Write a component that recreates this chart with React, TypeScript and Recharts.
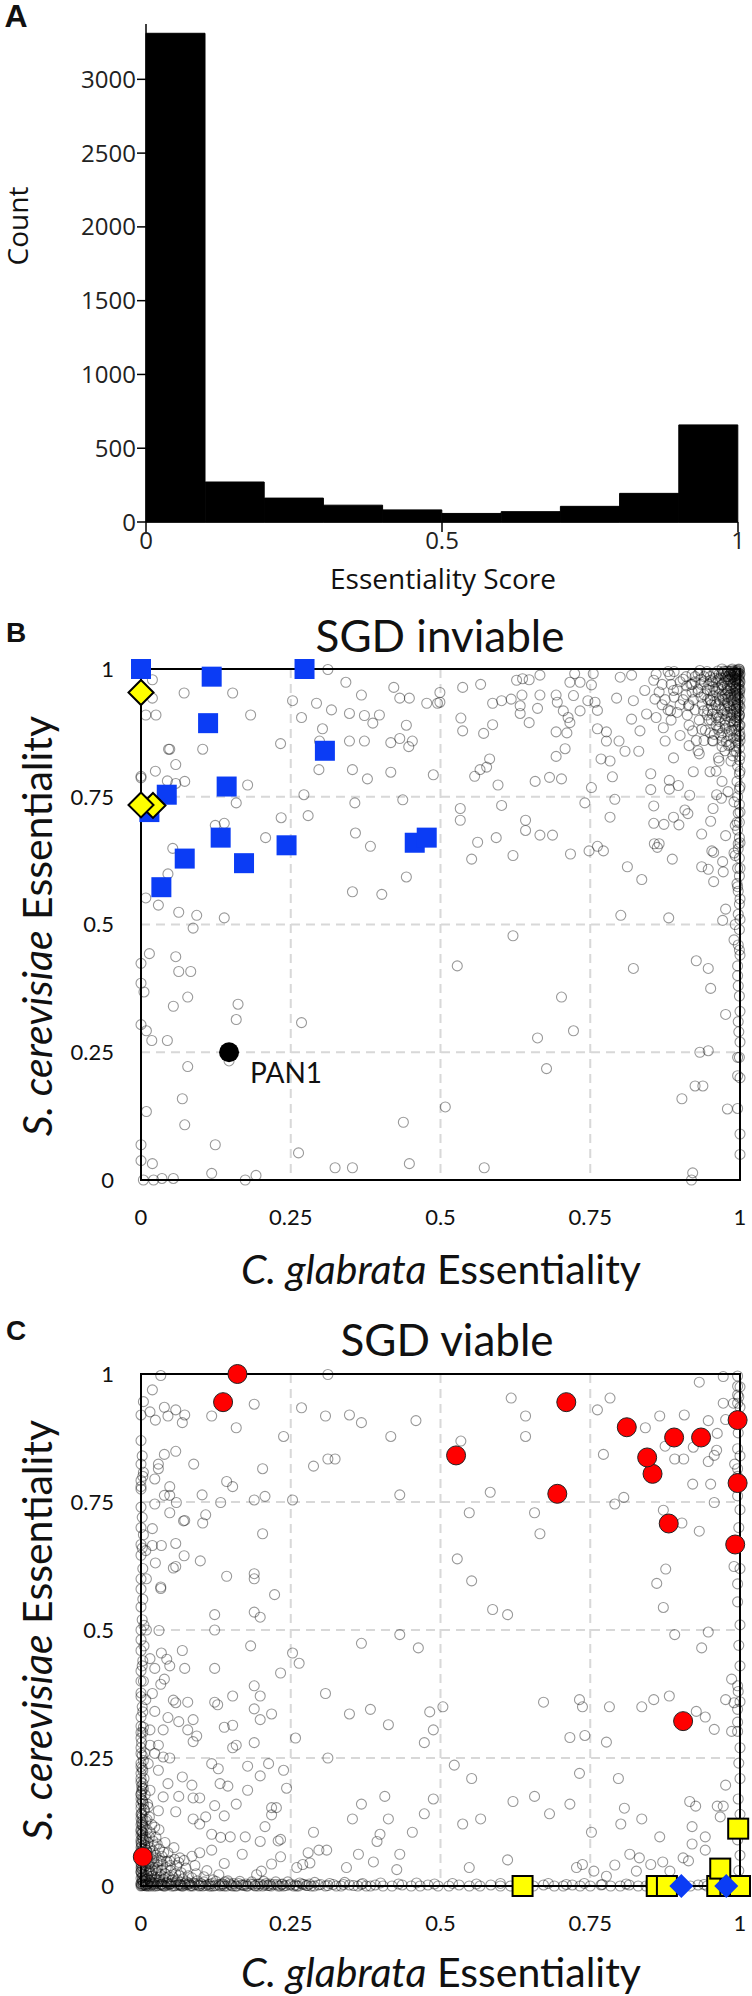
import { BarChart, Bar, XAxis, YAxis, ScatterChart, Scatter, CartesianGrid, ReferenceArea } from 'recharts';

document.body.style.margin = '0';

// ---- panel A: histogram of essentiality scores (bins of 0.1, given by their centres)
const BIN_MID = [0.05, 0.15, 0.25, 0.35, 0.45, 0.55, 0.65, 0.75, 0.85, 0.95];
const BIN_COUNT = [3312, 271, 162, 114, 82, 58, 70, 106, 194, 658];
const COUNT_TICKS = [0, 500, 1000, 1500, 2000, 2500, 3000];
const SCORE_TICKS = [0, 0.5, 1];

// ---- panels B/C: C. glabrata (x) vs S. cerevisiae (y) essentiality
const ESS_TICKS = [0, 0.25, 0.5, 0.75, 1];

const B_GRAY = [
  [0.019,0.979],[0.072,0.953],[0.153,0.953],[0.019,0.943],[0.008,0.91],[0.025,0.91],[0.183,0.91],[0.046,0.843],[0.048,0.843],[0.103,0.843],
  [0.233,0.854],[0.058,0.813],[0.024,0.8],[0.0,0.787],[0.0,0.79],[0.044,0.781],[0.058,0.776],[0.073,0.78],[0.178,0.773],[0.159,0.738],
  [0.234,0.709],[0.124,0.694],[0.139,0.698],[0.208,0.67],[0.053,0.649],[0.045,0.599],[0.008,0.552],[0.029,0.538],[0.063,0.524],[0.093,0.518],
  [0.087,0.493],[0.139,0.513],[0.014,0.443],[0.058,0.437],[0.0,0.424],[0.063,0.408],[0.083,0.408],[0.0,0.385],[0.005,0.368],[0.078,0.358],
  [0.054,0.34],[0.162,0.344],[0.159,0.314],[0.0,0.304],[0.009,0.292],[0.018,0.273],[0.044,0.273],[0.268,0.308],[0.078,0.222],[0.147,0.233],
  [0.069,0.159],[0.009,0.134],[0.073,0.108],[0.0,0.069],[0.124,0.069],[0.263,0.053],[0.019,0.032],[0.0,0.038],[0.118,0.013],[0.192,0.009],
  [0.324,0.024],[0.353,0.024],[0.438,0.113],[0.448,0.032],[0.174,0.0],[0.004,0.0],[0.021,0.0],[0.035,0.003],[0.054,0.003],
  [0.312,0.999],[0.342,0.974],[0.253,0.938],[0.293,0.933],[0.268,0.905],[0.318,0.92],[0.348,0.913],[0.368,0.949],[0.373,0.909],[0.387,0.894],
  [0.398,0.91],[0.422,0.964],[0.432,0.943],[0.448,0.943],[0.477,0.933],[0.495,0.933],[0.303,0.883],[0.298,0.859],[0.348,0.859],[0.373,0.859],
  [0.443,0.89],[0.417,0.856],[0.432,0.864],[0.447,0.848],[0.453,0.859],[0.297,0.803],[0.353,0.803],[0.378,0.785],[0.417,0.798],[0.488,0.793],
  [0.272,0.754],[0.279,0.713],[0.357,0.738],[0.437,0.744],[0.358,0.679],[0.383,0.653],[0.443,0.593],[0.353,0.564],[0.402,0.559],
  [0.537,0.964],[0.567,0.97],[0.534,0.904],[0.537,0.879],[0.572,0.874],[0.587,0.891],[0.587,0.933],[0.602,0.938],[0.618,0.941],[0.633,0.928],
  [0.636,0.949],[0.637,0.981],[0.648,0.979],[0.627,0.978],[0.666,0.988],[0.666,0.949],[0.662,0.923],[0.633,0.913],[0.648,0.895],[0.693,0.949],
  [0.695,0.935],[0.705,0.918],[0.713,0.905],[0.716,0.895],[0.711,0.875],[0.693,0.877],[0.708,0.844],[0.693,0.829],[0.716,0.974],[0.724,0.991],
  [0.733,0.974],[0.722,0.948],[0.733,0.918],[0.752,0.969],[0.755,0.991],[0.746,0.938],[0.758,0.935],[0.762,0.919],[0.762,0.883],[0.777,0.877],
  [0.777,0.859],[0.794,0.943],[0.8,0.984],[0.798,0.859],[0.808,0.839],[0.768,0.824],[0.783,0.82],[0.787,0.789],[0.752,0.768],[0.741,0.738],
  [0.791,0.745],[0.783,0.71],[0.819,0.988],[0.822,0.938],[0.819,0.902],[0.833,0.879],[0.841,0.958],[0.844,0.912],[0.856,0.978],[0.858,0.941],
  [0.831,0.839],[0.851,0.795],[0.851,0.764],[0.856,0.732],[0.856,0.698],[0.873,0.696],[0.889,0.71],[0.898,0.695],[0.857,0.658],[0.865,0.658],
  [0.862,0.651],[0.812,0.613],[0.836,0.588],[0.887,0.628],[0.882,0.782],[0.882,0.765],[0.897,0.772],[0.908,0.724],[0.913,0.717],[0.916,0.753],
  [0.889,0.826],[0.875,0.859],[0.872,0.885],[0.884,0.918],[0.889,0.958],[0.883,0.988],[0.911,0.967],[0.914,0.928],[0.921,0.879],[0.922,0.799],
  [0.932,0.834],[0.936,0.882],[0.939,0.918],[0.933,0.997],[0.951,0.978],[0.951,0.938],[0.955,0.859],[0.95,0.799],[0.964,0.826],[0.966,0.885],
  [0.961,0.754],[0.969,0.747],[0.955,0.727],[0.951,0.702],[0.936,0.677],[0.976,0.674],[0.953,0.644],[0.956,0.641],[0.971,0.623],[0.972,0.603],
  [0.936,0.613],[0.947,0.608],[0.956,0.584],[0.992,0.694],[0.997,0.658],[0.992,0.635],[0.996,0.574],[0.976,0.53],[0.971,0.508],[0.992,0.5],
  [0.801,0.518],[0.881,0.513],[0.528,0.419],[0.621,0.478],[0.822,0.414],[0.927,0.429],[0.947,0.414],[0.951,0.375],[0.996,0.419],[0.702,0.358],
  [0.722,0.292],[0.662,0.278],[0.677,0.218],[0.976,0.324],[0.933,0.25],[0.947,0.253],[0.996,0.24],[0.996,0.204],[0.925,0.184],[0.938,0.184],
  [0.903,0.159],[0.979,0.139],[0.508,0.143],[0.573,0.024],[0.921,0.014],[0.919,0.0],[0.533,0.727],[0.533,0.704],[0.562,0.661],[0.593,0.67],
  [0.552,0.628],[0.621,0.635],[0.642,0.704],[0.642,0.684],[0.666,0.675],[0.687,0.675],[0.602,0.733],[0.596,0.773],[0.557,0.79],[0.566,0.803],
  [0.577,0.808],[0.582,0.824],[0.658,0.78],[0.682,0.788],[0.702,0.785],[0.717,0.638],[0.748,0.644],[0.762,0.653],[0.772,0.644],[0.499,0.954],
  [0.499,0.935],
  // dense corner near (1, 1)
  [0.86,0.99],[0.87,0.97],[0.875,0.94],[0.88,0.92],[0.885,0.9],[0.89,0.995],[0.895,0.96],[0.9,0.93],[0.9,0.87],[0.905,0.98],
  [0.91,0.95],[0.912,0.91],[0.915,0.89],[0.918,0.97],[0.92,0.99],[0.922,0.94],[0.925,0.92],[0.927,0.86],[0.93,0.96],[0.932,0.9],
  [0.935,0.98],[0.937,0.93],[0.94,0.95],[0.942,0.88],[0.944,0.99],[0.946,0.92],[0.948,0.97],[0.95,0.94],[0.952,0.9],[0.954,0.86],
  [0.956,0.99],[0.958,0.96],[0.96,0.93],[0.962,0.91],[0.964,0.98],[0.966,0.95],[0.968,0.87],[0.97,1.0],[0.971,0.97],[0.972,0.94],
  [0.974,0.92],[0.975,0.89],[0.977,0.99],[0.978,0.96],[0.98,0.93],[0.981,0.85],[0.982,0.98],[0.984,0.95],[0.985,0.91],[0.986,0.88],
  [0.987,1.0],[0.988,0.97],[0.989,0.94],[0.99,0.92],[0.991,0.99],[0.992,0.96],[0.993,0.9],[0.994,0.87],[0.995,0.98],[0.996,0.95],
  [0.997,0.93],[0.998,1.0],[0.998,0.97],[0.999,0.91],[1.0,0.99],[1.0,0.96],[1.0,0.94],[1.0,0.89],[1.0,0.86],[1.0,0.83],
  [1.0,0.8],[0.99,0.84],[0.985,0.82],[0.975,0.84],[0.965,0.82],[0.96,0.8],[0.97,0.78],[0.98,0.76],[0.99,0.74],[1.0,0.77],
  [1.0,0.72],[0.995,0.7],[1.0,0.66],[0.99,0.64],[1.0,0.61],[0.995,0.58],[1.0,0.55],[1.0,0.51],[0.99,0.47],[1.0,0.44],
  [0.997,0.38],[1.0,0.33],[0.998,0.29],[1.0,0.27],[1.0,0.2],[0.996,0.14],[1.0,0.09],[1.0,0.05],
  [0.975,0.995],[0.98,0.985],[0.985,0.975],[0.99,0.965],[0.995,0.955],[0.965,0.99],[0.96,0.975],[0.955,0.965],[0.95,0.985],[0.945,0.96],
  [0.99,0.985],[0.995,0.99],[1.0,0.975],[0.985,0.995],[0.97,0.96],[0.975,0.95],[0.98,0.945],[0.99,0.935],[1.0,0.925],[0.995,0.915],
  [0.985,0.905],[0.975,0.9],[0.965,0.905],[0.99,0.88],[0.98,0.87],[0.97,0.86],[1.0,0.87],[0.993,0.85],[0.94,0.975],[0.93,0.99],
  [0.925,0.975],[0.92,0.955],[0.935,0.945],[0.955,0.92],[0.945,0.91],[0.96,0.89],[0.95,0.875],[0.94,0.86],[0.93,0.84],[0.915,0.85],
  [0.996,0.998],[0.992,0.993],[0.988,0.988],[0.998,0.982],[0.993,0.977],[0.983,0.967],[0.997,0.962],[0.988,0.957],[0.978,0.952],[0.998,0.945],
  [0.992,0.948],[0.986,0.938],[0.996,0.932],[0.982,0.928],[0.994,0.922],[0.988,0.912],[0.998,0.905],[0.979,0.915],[0.99,0.897],[0.997,0.888],
  [0.999,0.999],[0.997,0.994],[0.994,0.997],[0.99,0.992],[0.986,0.998],[0.983,0.99],[0.979,0.996],[0.999,0.987],[0.995,0.983],[0.991,0.979],
  [0.987,0.984],[0.98,0.978],[0.976,0.985],[0.972,0.991],[0.968,0.983],[0.963,0.996],[0.999,0.97],[0.994,0.967],[0.989,0.972],[0.984,0.962],
  [0.979,0.967],[0.974,0.974],[0.969,0.969],[0.964,0.962],[0.959,0.982],[0.954,0.975],[0.999,0.952],[0.995,0.947],[0.99,0.952],[0.985,0.944],
  [0.98,0.957],[0.975,0.941],[0.97,0.948],[0.965,0.94],[0.96,0.955],[0.955,0.948],[0.95,0.958],[0.999,0.93],[0.994,0.926],[0.989,0.93],
  [0.984,0.922],[0.979,0.934],[0.974,0.928],[0.969,0.92],[0.964,0.928],[0.958,0.936],[0.952,0.93],[0.946,0.94],[0.999,0.91],[0.995,0.905],
  [0.99,0.91],[0.984,0.898],[0.978,0.908],[0.972,0.912],[0.966,0.897],[0.96,0.905],[0.954,0.912],[0.948,0.9],[0.999,0.89],[0.994,0.882],
  [0.988,0.89],[0.982,0.878],[0.976,0.884],[0.97,0.875],[0.963,0.882],[0.957,0.872],[0.999,0.868],[0.995,0.86],[0.989,0.865],[0.983,0.852],
  [0.977,0.858],[0.97,0.848],[0.999,0.845],[0.994,0.838],[0.988,0.83],[0.999,0.822],[0.996,0.81],[0.999,0.795],[0.995,0.78],[0.999,0.765],
  [0.996,0.75],[0.999,0.735],[0.997,0.718],[0.999,0.7],[0.996,0.685],[0.999,0.67],[0.997,0.648],[0.999,0.63],[0.996,0.61],[0.999,0.595],
  [0.997,0.565],[0.999,0.54],[0.997,0.52],[0.999,0.49],[0.997,0.46],[0.999,0.45],[0.996,0.4],[0.999,0.36],[0.997,0.31],[0.999,0.24],
  [0.945,0.995],[0.94,0.985],[0.935,0.97],[0.93,0.955],[0.925,0.985],[0.92,0.97],[0.915,0.93],[0.91,0.985],[0.905,0.94],[0.9,0.975],
  [0.895,0.915],[0.89,0.945],[0.885,0.97],[0.88,0.995],[0.87,0.93],[0.865,0.955],[0.86,0.905],
  [0.999,0.996],[0.997,0.99],[0.995,0.994],[0.993,0.986],[0.999,0.978],[0.996,0.972],[0.993,0.962],[0.999,0.958],[0.996,0.94],[0.998,0.918],
  [0.995,0.898],[0.999,0.878],[0.997,0.855],[0.989,0.996],[0.985,0.988],[0.981,0.995],[0.977,0.981],[0.973,0.996],[0.969,0.99],
];
const B_BLUE_SQUARE = [
  [0.0,1.0],[0.118,0.985],[0.273,1.0],[0.112,0.894],[0.307,0.84],[0.143,0.77],[0.043,0.754],[0.014,0.72],
  [0.133,0.67],[0.243,0.655],[0.073,0.629],[0.172,0.62],[0.034,0.573],[0.457,0.66],[0.477,0.67],
];
const B_YELLOW_DIAMOND = [[0.0,0.954],[0.02,0.733],[0.0,0.734]];
const B_NAMED = [{ x: 0.147, y: 0.25, name: 'PAN1' }];

const C_GRAY = [
  [0.033,0.997],[0.019,0.969],[0.004,0.946],[0.0,0.92],[0.015,0.926],[0.024,0.91],[0.039,0.935],[0.045,0.918],[0.058,0.93],[0.069,0.905],
  [0.073,0.92],[0.118,0.918],[0.189,0.941],[0.159,0.895],[0.238,0.878],[0.268,0.934],[0.308,0.918],[0.348,0.92],[0.368,0.905],[0.459,0.909],
  [0.417,0.878],[0.312,0.999],[0.288,0.82],[0.312,0.834],[0.324,0.834],[0.203,0.815],[0.143,0.79],[0.153,0.78],[0.088,0.824],[0.058,0.849],
  [0.039,0.843],[0.029,0.824],[0.029,0.815],[0.0,0.824],[0.004,0.808],[0.0,0.792],[0.0,0.775],[0.023,0.795],[0.048,0.78],[0.039,0.763],
  [0.048,0.763],[0.023,0.746],[0.059,0.749],[0.048,0.729],[0.071,0.713],[0.073,0.714],[0.102,0.764],[0.133,0.749],[0.103,0.709],[0.108,0.725],
  [0.189,0.754],[0.207,0.761],[0.253,0.754],[0.432,0.764],[0.203,0.688],[0.019,0.698],[0.004,0.686],[0.0,0.667],[0.008,0.655],[0.019,0.665],
  [0.034,0.665],[0.058,0.669],[0.072,0.645],[0.024,0.631],[0.0,0.646],[0.054,0.621],[0.058,0.624],[0.099,0.635],[0.009,0.6],[0.033,0.584],
  [0.033,0.581],[0.143,0.605],[0.189,0.61],[0.189,0.6],[0.223,0.569],[0.0,0.545],[0.123,0.53],[0.189,0.535],[0.199,0.525],[0.005,0.509],
  [0.009,0.5],[0.03,0.499],[0.123,0.5],[0.0,0.481],[0.005,0.469],[0.015,0.444],[0.034,0.455],[0.043,0.443],[0.048,0.43],[0.023,0.425],
  [0.069,0.46],[0.073,0.425],[0.123,0.425],[0.183,0.469],[0.253,0.455],[0.264,0.435],[0.233,0.416],[0.368,0.474],[0.432,0.491],[0.463,0.465],
  [0.0,0.42],[0.004,0.4],[0.039,0.404],[0.033,0.394],[0.0,0.377],[0.019,0.376],[0.008,0.364],[0.054,0.363],[0.058,0.358],[0.078,0.359],
  [0.123,0.359],[0.128,0.354],[0.153,0.371],[0.189,0.391],[0.199,0.371],[0.189,0.346],[0.199,0.325],[0.218,0.336],[0.308,0.376],[0.348,0.336],
  [0.383,0.345],[0.413,0.315],[0.482,0.34],[0.488,0.305],[0.473,0.28],[0.023,0.341],[0.045,0.329],[0.063,0.321],[0.087,0.325],[0.0,0.312],
  [0.0,0.289],[0.015,0.305],[0.037,0.305],[0.078,0.305],[0.093,0.293],[0.087,0.282],[0.139,0.31],[0.153,0.314],[0.153,0.27],[0.159,0.275],
  [0.189,0.28],[0.258,0.289],[0.015,0.275],[0.029,0.275],[0.0,0.259],[0.023,0.259],[0.037,0.252],[0.048,0.25],[0.312,0.25],[0.0,0.233],
  [0.012,0.239],[0.029,0.226],[0.118,0.239],[0.129,0.229],[0.178,0.234],[0.213,0.239],[0.238,0.226],[0.199,0.215],[0.069,0.213],[0.045,0.2],
  [0.085,0.197],[0.132,0.2],[0.145,0.195],[0.243,0.191],[0.178,0.187],[0.0,0.203],[0.0,0.18],[0.015,0.187],[0.037,0.174],[0.063,0.175],
  [0.087,0.172],[0.098,0.172],[0.123,0.157],[0.159,0.16],[0.0,0.16],[0.012,0.154],[0.029,0.147],[0.058,0.145],[0.087,0.131],[0.108,0.135],
  [0.139,0.137],[0.218,0.153],[0.226,0.153],[0.218,0.139],[0.207,0.116],[0.098,0.121],[0.118,0.101],[0.133,0.095],[0.149,0.096],[0.174,0.096],
  [0.199,0.087],[0.229,0.088],[0.233,0.091],[0.288,0.105],[0.297,0.07],[0.31,0.07],[0.279,0.065],[0.233,0.057],[0.218,0.043],[0.169,0.062],
  [0.139,0.044],[0.118,0.07],[0.098,0.065],[0.065,0.055],[0.048,0.049],[0.033,0.049],[0.363,0.062],[0.388,0.047],[0.394,0.087],[0.399,0.101],
  [0.432,0.062],[0.453,0.105],[0.473,0.141],[0.488,0.17],[0.407,0.175],[0.413,0.131],[0.368,0.16],[0.353,0.131],[0.427,0.032],[0.343,0.036],
  [0.26,0.036],[0.27,0.042],[0.282,0.045],[0.201,0.029],[0.193,0.022],
  // dense corner near (0, 0) and the x = 0 column
  [0.0,0.14],[0.003,0.13],[0.0,0.12],[0.005,0.115],[0.002,0.105],[0.0,0.1],[0.008,0.095],[0.004,0.09],[0.0,0.085],[0.012,0.085],
  [0.006,0.08],[0.0,0.075],[0.015,0.075],[0.009,0.07],[0.003,0.065],[0.02,0.068],[0.0,0.06],[0.012,0.06],[0.025,0.06],[0.006,0.055],
  [0.018,0.052],[0.0,0.05],[0.03,0.05],[0.01,0.046],[0.022,0.044],[0.004,0.042],[0.036,0.042],[0.015,0.038],[0.0,0.036],[0.028,0.036],
  [0.042,0.036],[0.008,0.032],[0.02,0.03],[0.034,0.03],[0.05,0.03],[0.0,0.027],[0.013,0.025],[0.026,0.024],[0.04,0.024],[0.058,0.024],
  [0.005,0.02],[0.018,0.019],[0.031,0.018],[0.046,0.018],[0.064,0.02],[0.0,0.015],[0.01,0.014],[0.024,0.013],[0.037,0.013],[0.052,0.012],
  [0.07,0.014],[0.085,0.016],[0.004,0.009],[0.016,0.008],[0.029,0.008],[0.043,0.007],[0.058,0.008],[0.076,0.008],[0.094,0.01],[0.0,0.004],
  [0.009,0.004],[0.021,0.003],[0.035,0.003],[0.049,0.004],[0.066,0.003],[0.081,0.004],[0.1,0.005],[0.06,0.04],[0.075,0.035],[0.09,0.04],
  [0.072,0.05],[0.085,0.058],[0.11,0.03],[0.105,0.018],[0.12,0.012],[0.13,0.022],[0.14,0.008],[0.045,0.065],[0.055,0.075],[0.04,0.085],
  [0.025,0.095],[0.03,0.11],[0.018,0.12],[0.01,0.13],[0.005,0.15],[0.0,0.17],[0.004,0.19],[0.0,0.22],[0.004,0.245],[0.0,0.27],
  [0.003,0.3],[0.0,0.33],[0.002,0.35],[0.0,0.4],[0.003,0.44],[0.0,0.46],[0.002,0.52],[0.0,0.58],[0.003,0.62],[0.0,0.7],
  [0.002,0.72],[0.0,0.74],[0.002,0.84],[0.0,0.87],[0.002,0.007],[0.007,0.012],[0.003,0.022],[0.011,0.02],[0.001,0.033],[0.008,0.04],
  [0.002,0.047],[0.014,0.03],[0.006,0.065],[0.001,0.078],[0.003,0.098],[0.0,0.11],[0.001,0.125],[0.004,0.16],[0.001,0.185],[0.003,0.2],
  [0.001,0.001],[0.004,0.003],[0.008,0.001],[0.012,0.005],[0.002,0.011],[0.006,0.016],[0.014,0.011],[0.019,0.006],[0.023,0.016],[0.027,0.005],
  [0.031,0.011],[0.001,0.024],[0.009,0.028],[0.017,0.024],[0.025,0.03],[0.033,0.022],[0.041,0.016],[0.045,0.005],[0.053,0.018],[0.061,0.012],
  [0.067,0.026],[0.073,0.005],[0.079,0.02],[0.088,0.006],[0.092,0.024],[0.001,0.039],[0.007,0.05],[0.013,0.044],[0.021,0.055],[0.027,0.047],
  [0.035,0.058],[0.043,0.048],[0.049,0.04],[0.056,0.052],[0.063,0.046],[0.002,0.062],[0.009,0.07],[0.016,0.064],[0.022,0.079],[0.031,0.072],
  [0.038,0.066],[0.001,0.083],[0.007,0.09],[0.014,0.096],[0.02,0.088],[0.027,0.082],[0.003,0.104],[0.01,0.11],[0.016,0.104],[0.023,0.115],
  [0.002,0.12],[0.008,0.127],[0.014,0.135],[0.001,0.142],[0.006,0.148],[0.011,0.16],[0.002,0.168],[0.007,0.178],[0.001,0.195],[0.005,0.21],
  [0.002,0.23],[0.006,0.26],[0.001,0.28],[0.004,0.31],
  [0.0,0.005],[0.002,0.017],[0.0,0.028],[0.003,0.037],[0.0,0.044],[0.002,0.055],[0.0,0.068],[0.003,0.073],[0.0,0.09],[0.002,0.093],
  [0.0,0.107],[0.003,0.118],[0.0,0.132],[0.002,0.138],[0.0,0.152],[0.003,0.165],[0.0,0.178],[0.002,0.19],[0.0,0.21],[0.003,0.225],
  [0.0,0.24],[0.002,0.255],[0.0,0.3],[0.003,0.34],[0.0,0.37],[0.002,0.43],[0.0,0.5],[0.003,0.56],[0.0,0.6],[0.002,0.66],
  [0.0,0.78],[0.003,0.8],
  // the y = 0 row
  [0.0,0.0],[0.006,0.002],[0.012,0.0],[0.018,0.003],[0.025,0.0],[0.032,0.002],[0.04,0.0],[0.047,0.003],[0.055,0.0],[0.062,0.002],
  [0.07,0.0],[0.078,0.003],[0.086,0.0],[0.095,0.002],[0.103,0.0],[0.112,0.003],[0.121,0.0],[0.13,0.002],[0.139,0.0],[0.149,0.003],
  [0.158,0.0],[0.167,0.002],[0.176,0.0],[0.186,0.003],[0.196,0.0],[0.206,0.002],[0.217,0.0],[0.227,0.003],[0.238,0.0],[0.249,0.002],
  [0.26,0.0],[0.272,0.003],[0.284,0.0],[0.296,0.002],[0.308,0.0],[0.321,0.003],[0.334,0.0],[0.348,0.002],[0.362,0.0],[0.376,0.0],
  [0.391,0.002],[0.404,0.0],[0.419,0.0],[0.436,0.002],[0.451,0.0],[0.466,0.0],[0.479,0.002],[0.496,0.0],[0.514,0.0],[0.531,0.002],
  [0.548,0.0],[0.566,0.0],[0.584,0.002],[0.6,0.0],[0.617,0.0],[0.655,0.0],[0.672,0.002],[0.69,0.0],[0.705,0.0],[0.72,0.002],
  [0.733,0.0],[0.75,0.0],[0.768,0.002],[0.784,0.0],[0.8,0.0],[0.815,0.002],[0.83,0.0],[0.843,0.0],[0.89,0.0],[0.917,0.0],
  [0.93,0.002],[0.945,0.0],[0.955,0.0],[0.99,0.0],[0.009,0.0],[0.021,0.0],[0.036,0.001],[0.051,0.0],[0.066,0.001],[0.082,0.0],
  [0.099,0.001],[0.117,0.0],[0.135,0.001],[0.153,0.0],[0.172,0.001],[0.191,0.0],[0.211,0.001],[0.232,0.0],[0.255,0.0],[0.278,0.001],
  [0.105,0.008],[0.115,0.004],[0.125,0.009],[0.135,0.004],[0.145,0.01],[0.155,0.005],[0.165,0.009],[0.175,0.004],[0.185,0.008],[0.195,0.004],
  [0.205,0.009],[0.215,0.004],[0.225,0.008],[0.235,0.003],[0.245,0.008],[0.265,0.006],[0.29,0.007],[0.315,0.005],[0.34,0.007],[0.37,0.005],
  [0.4,0.006],[0.43,0.004],[0.46,0.006],[0.49,0.004],[0.52,0.005],[0.56,0.004],[0.6,0.005],[0.64,0.003],[0.68,0.005],[0.71,0.003],
  [0.74,0.005],[0.77,0.003],[0.81,0.004],[0.85,0.003],[0.88,0.004],[0.94,0.003],[0.97,0.004],
  [0.003,0.001],[0.011,0.003],[0.016,0.0],[0.022,0.005],[0.028,0.001],[0.034,0.004],[0.038,0.0],[0.044,0.002],[0.05,0.005],[0.057,0.001],
  [0.064,0.004],[0.068,0.0],[0.074,0.002],[0.08,0.006],[0.084,0.001],[0.09,0.003],[0.097,0.0],[0.101,0.004],[0.108,0.001],[0.114,0.0],
  [0.119,0.005],[0.124,0.001],[0.132,0.0],[0.137,0.004],[0.143,0.0],[0.147,0.006],[0.151,0.001],[0.16,0.0],[0.163,0.005],[0.17,0.002],
  [0.178,0.0],[0.183,0.004],[0.19,0.001],[0.199,0.004],[0.203,0.0],[0.209,0.005],[0.214,0.001],[0.221,0.003],[0.229,0.0],[0.236,0.004],
  [0.242,0.001],[0.25,0.004],[0.258,0.002],[0.263,0.0],[0.269,0.004],[0.276,0.001],[0.281,0.004],[0.289,0.0],[0.3,0.003],[0.312,0.001],
  [0.326,0.0],[0.338,0.003],[0.355,0.001],[0.368,0.003],[0.383,0.0],
  // right half
  [0.618,0.953],[0.642,0.918],[0.642,0.878],[0.783,0.953],[0.762,0.93],[0.772,0.843],[0.842,0.895],[0.866,0.918],[0.875,0.859],[0.891,0.834],
  [0.906,0.834],[0.907,0.92],[0.922,0.857],[0.947,0.909],[0.962,0.884],[0.932,0.984],[0.972,0.995],[0.996,0.976],[0.996,0.959],[0.972,0.943],
  [0.989,0.943],[0.996,0.943],[0.976,0.911],[0.996,0.854],[0.961,0.851],[0.957,0.841],[0.947,0.829],[0.991,0.824],[0.996,0.815],[0.921,0.785],
  [0.951,0.785],[0.957,0.749],[0.996,0.762],[0.806,0.759],[0.791,0.746],[0.872,0.734],[0.903,0.709],[0.932,0.693],[0.583,0.769],[0.548,0.729],
  [0.534,0.869],[0.657,0.729],[0.666,0.688],[0.528,0.639],[0.552,0.596],[0.876,0.619],[0.861,0.591],[0.872,0.544],[0.99,0.624],[0.996,0.555],
  [0.587,0.54],[0.612,0.53],[0.891,0.491],[0.947,0.496],[0.936,0.465],[0.986,0.404],[0.996,0.391],[0.976,0.364],[0.99,0.358],[0.996,0.345],
  [0.672,0.359],[0.732,0.364],[0.737,0.35],[0.782,0.35],[0.836,0.35],[0.856,0.364],[0.882,0.371],[0.927,0.341],[0.942,0.33],[0.957,0.306],
  [0.986,0.302],[0.996,0.302],[0.504,0.35],[0.716,0.29],[0.741,0.294],[0.777,0.281],[0.523,0.236],[0.552,0.21],[0.621,0.165],[0.657,0.175],
  [0.682,0.141],[0.716,0.16],[0.732,0.22],[0.797,0.21],[0.537,0.121],[0.567,0.131],[0.752,0.105],[0.801,0.121],[0.807,0.152],[0.836,0.131],
  [0.866,0.096],[0.916,0.165],[0.926,0.156],[0.92,0.116],[0.942,0.096],[0.942,0.07],[0.92,0.082],[0.962,0.156],[0.972,0.156],[0.967,0.135],
  [0.976,0.197],[0.905,0.055],[0.914,0.049],[0.816,0.062],[0.832,0.055],[0.851,0.042],[0.871,0.047],[0.883,0.029],[0.612,0.051],[0.548,0.036],
  [0.727,0.036],[0.737,0.042],[0.756,0.029],[0.777,0.019],[0.791,0.041],[0.827,0.029],
  // x = 1 column
  [0.996,0.996],[1.0,0.975],[0.998,0.955],[1.0,0.935],[0.997,0.885],[1.0,0.84],[0.996,0.8],[1.0,0.735],[0.998,0.7],[1.0,0.62],
  [0.996,0.59],[1.0,0.51],[0.998,0.47],[1.0,0.43],[0.997,0.38],[1.0,0.36],[0.996,0.32],[1.0,0.27],[0.998,0.24],[1.0,0.21],
  [0.997,0.17],[1.0,0.14],[0.996,0.09],[1.0,0.06],[0.998,0.03],
];
const C_RED = [
  [0.161,1.0],[0.137,0.945],[0.003,0.057],[0.526,0.841],[0.71,0.945],[0.695,0.766],[0.811,0.896],[0.89,0.876],
  [0.935,0.876],[0.854,0.805],[0.845,0.837],[0.881,0.708],[0.996,0.91],[0.996,0.787],[0.992,0.667],[0.905,0.322],
];
const C_YELLOW_SQUARE = [[0.637,0],[0.861,0],[0.878,0],[0.962,0],[0.984,0],[1.0,0],[0.967,0.034],[0.997,0.112]];
const C_BLUE_DIAMOND = [[0.902,0],[0.977,0]];

const toPts = (a: number[][]) => a.map(([x, y]) => ({ x, y }));
const histData = BIN_MID.map((mid, i) => ({ mid, count: BIN_COUNT[i] }));

const BLUE = '#0b3cf5';
const YELLOW = '#ffff00';
const SANS = 'Lato';
const OPEN = 'Open Sans';

const diamond = (cx: number, cy: number, r: number) =>
  `${cx},${cy - r} ${cx + r},${cy} ${cx},${cy + r} ${cx - r},${cy}`;

const Ring = ({ cx, cy }: any) => (
  <circle cx={cx} cy={cy} r={5} fill="none" stroke="#000" strokeOpacity={0.4} strokeWidth={1.1} />
);
const BlueSquare = ({ cx, cy }: any) => <rect x={cx - 10} y={cy - 10} width={20} height={20} fill={BLUE} />;
const YellowSquare = ({ cx, cy }: any) => (
  <rect x={cx - 10} y={cy - 10} width={20} height={20} fill={YELLOW} stroke="#000" strokeWidth={2} />
);
const YellowDiamond = ({ cx, cy }: any) => (
  <polygon points={diamond(cx, cy, 12.5)} fill={YELLOW} stroke="#000" strokeWidth={2} />
);
const BlueDiamond = ({ cx, cy }: any) => <polygon points={diamond(cx, cy, 12)} fill={BLUE} />;
const RedDot = ({ cx, cy }: any) => <circle cx={cx} cy={cy} r={9.5} fill="#ff0000" stroke="#222" strokeWidth={1} />;
const NamedDot = ({ cx, cy, payload }: any) => (
  <g>
    <circle cx={cx} cy={cy} r={10} fill="#000" />
    <text x={cx + 21} y={cy + 31} fontSize={28} fontFamily={SANS} fill="#111">{payload.name}</text>
  </g>
);

function Caption({ x, y, size, rotate, bold, family = SANS, children }: any) {
  return (
    <div
      style={{
        position: 'absolute', left: x, top: y, whiteSpace: 'nowrap', lineHeight: 1,
        transform: `translate(-50%, -50%)${rotate ? ' rotate(-90deg)' : ''}`,
        fontSize: size, fontFamily: family, fontWeight: bold ? 700 : 400, color: '#111',
      }}
    >
      {children}
    </div>
  );
}

function EssScatter({ top, height, marginTop, marginBottom, children }: any) {
  const tick = { fontSize: 22, fill: '#111', fontFamily: SANS };
  return (
    <div style={{ position: 'absolute', left: 0, top }}>
      <ScatterChart width={752} height={height} margin={{ top: marginTop, right: 12, bottom: marginBottom, left: 0 }}>
        <CartesianGrid stroke="#d8d8d8" strokeWidth={2} strokeDasharray="9 6" />
        <XAxis type="number" dataKey="x" domain={[0, 1]} ticks={ESS_TICKS} axisLine={false} tickLine={false}
          tickSize={6} tickMargin={23} height={40} tick={tick} />
        <YAxis type="number" dataKey="y" domain={[0, 1]} ticks={ESS_TICKS} axisLine={false} tickLine={false}
          tickSize={6} tickMargin={21} width={141} tick={tick} />
        <ReferenceArea x1={0} x2={1} y1={0} y2={1} fill="none" fillOpacity={0} stroke="#000" strokeWidth={2} />
        {children}
      </ScatterChart>
    </div>
  );
}

export default function App() {
  return (
    <div style={{ position: 'relative', width: 752, height: 1996, background: '#fff', fontFamily: SANS }}>
      {/* A: histogram */}
      <div style={{ position: 'absolute', left: 0, top: 0 }}>
        <BarChart width={752} height={600} data={histData} barCategoryGap={0} barGap={0}
          margin={{ top: 24, right: 14, bottom: 38, left: 0 }}>
          <XAxis type="number" dataKey="mid" domain={[0, 1]} ticks={SCORE_TICKS}
            height={40} stroke="#000" strokeWidth={1.5} tickSize={10} tickMargin={0}
            tick={{ fontSize: 24, fill: '#222', fontFamily: OPEN }} />
          <YAxis domain={[0, 3375]} ticks={COUNT_TICKS} width={146} stroke="#000" strokeWidth={1.5}
            tickSize={9} tickMargin={1} tick={{ fontSize: 24, fill: '#222', fontFamily: OPEN }} />
          <Bar dataKey="count" fill="#000" stroke="#000" strokeWidth={1} isAnimationActive={false} />
        </BarChart>
      </div>
      <Caption x={16} y={16} size={32} bold family="Liberation Sans">A</Caption>
      <Caption x={17} y={226} size={28} rotate family={OPEN}>Count</Caption>
      <Caption x={443} y={578} size={28} family={OPEN}>Essentiality Score</Caption>

      {/* B: SGD inviable */}
      <EssScatter top={600} height={700} marginTop={69} marginBottom={80}>
        <Scatter data={toPts(B_GRAY)} shape={Ring} isAnimationActive={false} />
        <Scatter data={toPts(B_BLUE_SQUARE)} shape={BlueSquare} isAnimationActive={false} />
        <Scatter data={toPts(B_YELLOW_DIAMOND)} shape={YellowDiamond} isAnimationActive={false} />
        <Scatter data={B_NAMED} shape={NamedDot} isAnimationActive={false} />
      </EssScatter>
      <Caption x={16} y={633} size={28} bold family="Liberation Sans">B</Caption>
      <Caption x={440} y={635} size={44}>SGD inviable</Caption>
      <Caption x={36} y={926} size={41} rotate><i>S. cerevisiae</i> Essentiality</Caption>
      <Caption x={441} y={1268} size={41}><i>C. glabrata</i> Essentiality</Caption>

      {/* C: SGD viable */}
      <EssScatter top={1300} height={696} marginTop={74} marginBottom={70}>
        <Scatter data={toPts(C_GRAY)} shape={Ring} isAnimationActive={false} />
        <Scatter data={toPts(C_RED)} shape={RedDot} isAnimationActive={false} />
        <Scatter data={toPts(C_YELLOW_SQUARE)} shape={YellowSquare} isAnimationActive={false} />
        <Scatter data={toPts(C_BLUE_DIAMOND)} shape={BlueDiamond} isAnimationActive={false} />
      </EssScatter>
      <Caption x={16} y={1331} size={28} bold family="Liberation Sans">C</Caption>
      <Caption x={447} y={1339} size={44}>SGD viable</Caption>
      <Caption x={36} y={1630} size={41} rotate><i>S. cerevisiae</i> Essentiality</Caption>
      <Caption x={441} y={1971} size={41}><i>C. glabrata</i> Essentiality</Caption>
    </div>
  );
}
